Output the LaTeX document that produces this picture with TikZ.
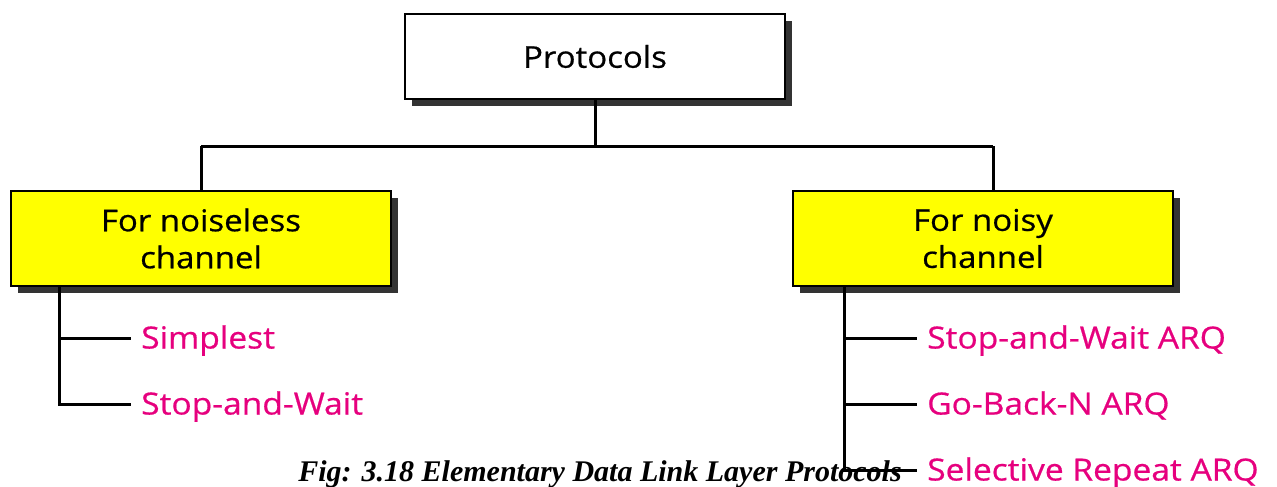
\documentclass[tikz,border=0pt]{standalone}
\usepackage{fontspec}
\setmainfont{Open Sans}[FakeStretch=1.1, FakeBold=0.6]
\newfontfamily\capfont{Liberation Serif}
\usetikzlibrary{shadows}
\definecolor{leafpink}{RGB}{230,0,126}
\definecolor{boxyellow}{RGB}{255,255,0}
\definecolor{shadowgray}{RGB}{51,51,51}
\tikzset{
  catbox/.style={draw=black, line width=2.5pt, minimum width=380pt,
    inner sep=0pt, align=center,
    font=\fontsize{30}{37}\selectfont,
    drop shadow={shadow xshift=7pt, shadow yshift=-7pt, fill=shadowgray, opacity=1}},
  leaf/.style={anchor=west, text=leafpink, inner xsep=10pt, inner ysep=0pt,
    font=\fontsize{30.5}{35}\selectfont, text height=21pt, text depth=0pt},
  conn/.style={draw=black, line width=3pt},
}
\begin{document}
\begin{tikzpicture}[x=1pt, y=-1pt]
\useasboundingbox (0,0) rectangle (1277,487);

% caption
\node[anchor=base, inner sep=0pt] (cap) at (600,481)
  {\capfont\bfseries\itshape\fontsize{30}{30}\selectfont Fig: 3.18 Elementary Data Link Layer Protocols};

% category boxes
\node[catbox, fill=white, minimum height=85pt] (proto) at (595,56.5) {Protocols};
\node[catbox, fill=boxyellow, minimum height=95pt] (quiet) at (201,238.5) {For noiseless\\channel};
\node[catbox, fill=boxyellow, minimum height=95pt] (noisy) at (983,238.5) {For noisy\\channel};

% protocol leaves
\node[leaf] (simplest) at (131,338) {Simplest};
\node[leaf] (sw)       at (131,404) {Stop-and-Wait};
\node[leaf] (swarq)    at (917,338) {Stop-and-Wait ARQ};
\node[leaf] (gbn)      at (917,404) {Go-Back-N ARQ};
\node[leaf] (sr)       at (917,470) {Selective Repeat ARQ};

% top-level bus
\coordinate (bus)  at (0,146);
\coordinate (ntop) at ([xshift=10pt]noisy.north);
\draw[conn] (proto.south) -- (proto.south |- bus);
\draw[conn] (quiet.north |- bus) -- (ntop |- bus);
\draw[conn] (quiet.north |- bus) -- (quiet.north);
\draw[conn] (ntop |- bus) -- (ntop);

% leaf trunks
\coordinate (qtrunk) at ([xshift=50pt]quiet.south west);
\coordinate (ntrunk) at ([xshift=53pt]noisy.south west);
\draw[conn] (qtrunk) |- (simplest.west);
\draw[conn] (qtrunk) |- (sw.west);
\draw[conn] (ntrunk) |- (swarq.west);
\draw[conn] (ntrunk) |- (gbn.west);
\draw[conn] (ntrunk) |- (sr.west);
\end{tikzpicture}
\end{document}
